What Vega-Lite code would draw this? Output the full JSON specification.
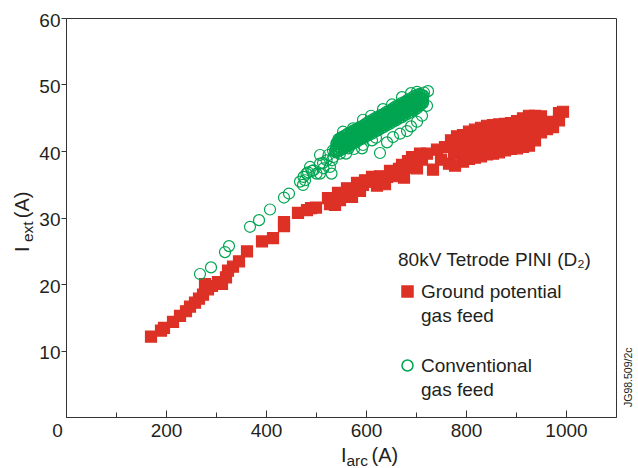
{
"$schema": "https://vega.github.io/schema/vega-lite/v6.json",
"width": 550, "height": 399,
"autosize": {"type": "none"},
"padding": {"left": 66, "top": 18, "right": 22, "bottom": 51},
"background": "white",
"config": {"font": "Liberation Sans", "view": {"stroke": "#333333", "strokeWidth": 1},
 "axis": {"domainColor": "#333333", "tickColor": "#333333", "labelColor": "#231f20", "labelFontSize": 19, "grid": false, "labelFont": "Liberation Sans"},
 "style": {"guide-label": {"lineHeight": 24}},
 "text": {"font": "Liberation Sans", "color": "#231f20"}},
"datasets": {
"pts": [
{"f":"G","a":170,"e":12.1},{"f":"G","a":190,"e":13.0},{"f":"G","a":196,"e":13.4},{"f":"G","a":214,"e":14.3},{"f":"G","a":228,"e":15.2},{"f":"G","a":240,"e":15.9},{"f":"G","a":248,"e":16.6},{"f":"G","a":258,"e":17.2},{"f":"G","a":266,"e":17.8},{"f":"G","a":274,"e":18.4},{"f":"G","a":278,"e":20.0},{"f":"G","a":284,"e":19.2},{"f":"G","a":292,"e":19.7},{"f":"G","a":304,"e":20.3},{"f":"G","a":312,"e":20.0},{"f":"G","a":320,"e":21.0},{"f":"G","a":324,"e":22.0},{"f":"G","a":334,"e":22.6},{"f":"G","a":346,"e":23.4},{"f":"G","a":362,"e":24.9},{"f":"G","a":392,"e":26.4},{"f":"G","a":414,"e":26.9},{"f":"G","a":436,"e":28.7},{"f":"G","a":436,"e":29.3},{"f":"G","a":464,"e":30.7},{"f":"G","a":482,"e":31.1},{"f":"G","a":490,"e":31.4},{"f":"G","a":500,"e":31.5},{"f":"G","a":524,"e":32.9},{"f":"G","a":532,"e":32.5},{"f":"G","a":538,"e":31.9},{"f":"G","a":544,"e":33.7},{"f":"G","a":552,"e":33.2},{"f":"G","a":562,"e":34.4},{"f":"G","a":572,"e":33.1},{"f":"G","a":578,"e":34.2},{"f":"G","a":582,"e":35.2},{"f":"G","a":594,"e":34.9},{"f":"G","a":604,"e":35.4},{"f":"G","a":612,"e":36.1},{"f":"G","a":622,"e":34.8},{"f":"G","a":632,"e":35.7},{"f":"G","a":642,"e":36.1},{"f":"G","a":652,"e":36.4},{"f":"G","a":658,"e":36.8},{"f":"G","a":666,"e":37.3},{"f":"G","a":672,"e":37.9},{"f":"G","a":676,"e":36.0},{"f":"G","a":684,"e":38.5},{"f":"G","a":692,"e":39.1},{"f":"G","a":702,"e":37.4},{"f":"G","a":712,"e":38.7},{"f":"G","a":722,"e":39.6},{"f":"G","a":734,"e":37.2},{"f":"G","a":742,"e":40.2},{"f":"G","a":750,"e":38.7},{"f":"G","a":758,"e":40.6},{"f":"G","a":766,"e":38.1},{"f":"G","a":776,"e":39.6},{"f":"G","a":778,"e":37.8},
{"f":"G","a":528,"e":32.0},{"f":"G","a":548,"e":32.6},{"f":"G","a":558,"e":33.6},{"f":"G","a":568,"e":34.0},{"f":"G","a":588,"e":34.0},{"f":"G","a":598,"e":35.6},{"f":"G","a":616,"e":35.4},{"f":"G","a":628,"e":36.2},{"f":"G","a":638,"e":35.0},{"f":"G","a":648,"e":37.0},{"f":"G","a":662,"e":36.2},{"f":"G","a":680,"e":37.5},{"f":"G","a":698,"e":38.6},{"f":"G","a":708,"e":39.6},
{"f":"G","a":770,"e":41.6},{"f":"G","a":782,"e":40.6},{"f":"G","a":782,"e":42.2},{"f":"G","a":794,"e":38.4},{"f":"G","a":794,"e":39.8},{"f":"G","a":794,"e":41.2},{"f":"G","a":794,"e":42.4},{"f":"G","a":806,"e":38.8},{"f":"G","a":806,"e":40.2},{"f":"G","a":806,"e":41.6},{"f":"G","a":806,"e":42.9},{"f":"G","a":818,"e":39.0},{"f":"G","a":818,"e":40.4},{"f":"G","a":818,"e":41.8},{"f":"G","a":818,"e":43.2},{"f":"G","a":830,"e":39.2},{"f":"G","a":830,"e":40.6},{"f":"G","a":830,"e":42.0},{"f":"G","a":830,"e":43.5},{"f":"G","a":842,"e":39.5},{"f":"G","a":842,"e":40.9},{"f":"G","a":842,"e":42.3},{"f":"G","a":842,"e":43.8},{"f":"G","a":854,"e":39.6},{"f":"G","a":854,"e":41.0},{"f":"G","a":854,"e":42.4},{"f":"G","a":854,"e":43.9},{"f":"G","a":866,"e":39.8},{"f":"G","a":866,"e":41.2},{"f":"G","a":866,"e":42.6},{"f":"G","a":866,"e":44.0},{"f":"G","a":878,"e":40.1},{"f":"G","a":878,"e":41.5},{"f":"G","a":878,"e":42.9},{"f":"G","a":878,"e":44.1},{"f":"G","a":890,"e":40.3},{"f":"G","a":890,"e":41.7},{"f":"G","a":890,"e":43.1},{"f":"G","a":890,"e":44.2},{"f":"G","a":902,"e":40.4},{"f":"G","a":902,"e":41.8},{"f":"G","a":902,"e":43.2},{"f":"G","a":902,"e":44.5},{"f":"G","a":914,"e":40.6},{"f":"G","a":914,"e":42.0},{"f":"G","a":914,"e":43.4},{"f":"G","a":914,"e":44.9},{"f":"G","a":926,"e":40.8},{"f":"G","a":926,"e":42.2},{"f":"G","a":926,"e":43.6},{"f":"G","a":926,"e":45.3},{"f":"G","a":938,"e":41.6},{"f":"G","a":938,"e":43.0},{"f":"G","a":938,"e":44.3},{"f":"G","a":938,"e":45.3},{"f":"G","a":950,"e":42.8},{"f":"G","a":950,"e":44.0},{"f":"G","a":950,"e":45.2},{"f":"G","a":962,"e":43.3},{"f":"G","a":962,"e":44.4},{"f":"G","a":974,"e":43.6},{"f":"G","a":974,"e":44.3},{"f":"G","a":986,"e":44.6},{"f":"G","a":986,"e":45.7},{"f":"G","a":994,"e":45.9},
{"f":"C","a":268,"e":21.5},{"f":"C","a":290,"e":22.5},{"f":"C","a":318,"e":24.8},{"f":"C","a":326,"e":25.7},{"f":"C","a":368,"e":28.6},{"f":"C","a":386,"e":29.6},{"f":"C","a":408,"e":31.2},{"f":"C","a":436,"e":33.0},{"f":"C","a":446,"e":33.6},{"f":"C","a":474,"e":34.9},{"f":"C","a":478,"e":35.6},
{"f":"C","a":481,"e":36.6},{"f":"C","a":495,"e":37.1},{"f":"C","a":508,"e":38.1},{"f":"C","a":521,"e":38.6},{"f":"C","a":535,"e":39.1},{"f":"C","a":541,"e":39.9},{"f":"C","a":468,"e":35.4},{"f":"C","a":475,"e":36.1},{"f":"C","a":501,"e":36.6},{"f":"C","a":515,"e":37.4},{"f":"C","a":528,"e":37.6},{"f":"C","a":531,"e":36.6},{"f":"C","a":548,"e":39.6},{"f":"C","a":541,"e":41.2},{"f":"C","a":551,"e":41.9},{"f":"C","a":508,"e":36.6},{"f":"C","a":488,"e":37.6},{"f":"C","a":525,"e":39.4},{"f":"C","a":565,"e":40.4},{"f":"C","a":508,"e":39.4},{"f":"C","a":534,"e":40.1},{"f":"C","a":484,"e":36.8},{"f":"C","a":492,"e":37.0},{"f":"C","a":514,"e":38.2},{"f":"C","a":532,"e":38.6},{"f":"C","a":538,"e":40.1},{"f":"C","a":548,"e":41.2},
{"f":"C","a":554,"e":42.9},{"f":"C","a":574,"e":43.4},{"f":"C","a":594,"e":44.7},{"f":"C","a":610,"e":45.3},{"f":"C","a":634,"e":46.3},{"f":"C","a":652,"e":47.0},{"f":"C","a":672,"e":48.1},{"f":"C","a":690,"e":48.7},{"f":"C","a":702,"e":48.9},{"f":"C","a":724,"e":49.0},{"f":"C","a":716,"e":48.8},
{"f":"C","a":592,"e":40.4},{"f":"C","a":594,"e":40.9},{"f":"C","a":612,"e":41.6},{"f":"C","a":628,"e":39.7},{"f":"C","a":642,"e":41.3},{"f":"C","a":654,"e":42.1},{"f":"C","a":668,"e":42.6},{"f":"C","a":682,"e":43.0},{"f":"C","a":690,"e":43.7},{"f":"C","a":702,"e":44.4},{"f":"C","a":712,"e":45.3},{"f":"C","a":722,"e":46.8},{"f":"C","a":560,"e":39.6},{"f":"C","a":576,"e":40.3},{"f":"C","a":620,"e":42.0},
{"f":"C","a":540,"e":39.8},{"f":"C","a":540,"e":40.4},{"f":"C","a":541,"e":41.0},
{"f":"C","a":546,"e":40.0},{"f":"C","a":546,"e":40.6},{"f":"C","a":547,"e":41.2},{"f":"C","a":546,"e":41.7},
{"f":"C","a":552,"e":40.2},{"f":"C","a":553,"e":40.8},{"f":"C","a":552,"e":41.4},{"f":"C","a":551,"e":42.0},
{"f":"C","a":558,"e":40.5},{"f":"C","a":558,"e":41.1},{"f":"C","a":559,"e":41.7},{"f":"C","a":558,"e":42.3},
{"f":"C","a":564,"e":40.7},{"f":"C","a":565,"e":41.3},{"f":"C","a":564,"e":41.9},{"f":"C","a":563,"e":42.5},
{"f":"C","a":570,"e":40.9},{"f":"C","a":570,"e":41.5},{"f":"C","a":571,"e":42.1},{"f":"C","a":570,"e":42.7},
{"f":"C","a":576,"e":41.2},{"f":"C","a":577,"e":41.8},{"f":"C","a":576,"e":42.4},{"f":"C","a":575,"e":43.0},
{"f":"C","a":582,"e":41.4},{"f":"C","a":582,"e":42.0},{"f":"C","a":583,"e":42.6},{"f":"C","a":582,"e":43.2},
{"f":"C","a":588,"e":41.7},{"f":"C","a":589,"e":42.3},{"f":"C","a":588,"e":42.9},{"f":"C","a":587,"e":43.5},
{"f":"C","a":594,"e":41.9},{"f":"C","a":594,"e":42.5},{"f":"C","a":595,"e":43.1},{"f":"C","a":594,"e":43.7},
{"f":"C","a":600,"e":42.2},{"f":"C","a":601,"e":42.8},{"f":"C","a":600,"e":43.4},{"f":"C","a":599,"e":44.0},
{"f":"C","a":606,"e":42.4},{"f":"C","a":606,"e":43.0},{"f":"C","a":607,"e":43.6},{"f":"C","a":606,"e":44.2},
{"f":"C","a":612,"e":42.6},{"f":"C","a":613,"e":43.2},{"f":"C","a":612,"e":43.8},{"f":"C","a":611,"e":44.4},
{"f":"C","a":618,"e":42.9},{"f":"C","a":618,"e":43.5},{"f":"C","a":619,"e":44.1},{"f":"C","a":618,"e":44.7},
{"f":"C","a":624,"e":43.1},{"f":"C","a":625,"e":43.7},{"f":"C","a":624,"e":44.3},{"f":"C","a":623,"e":44.9},
{"f":"C","a":630,"e":43.4},{"f":"C","a":630,"e":44.0},{"f":"C","a":631,"e":44.6},{"f":"C","a":630,"e":45.2},
{"f":"C","a":636,"e":43.6},{"f":"C","a":637,"e":44.2},{"f":"C","a":636,"e":44.8},{"f":"C","a":635,"e":45.4},
{"f":"C","a":642,"e":43.9},{"f":"C","a":642,"e":44.5},{"f":"C","a":643,"e":45.1},{"f":"C","a":642,"e":45.7},
{"f":"C","a":648,"e":44.1},{"f":"C","a":649,"e":44.7},{"f":"C","a":648,"e":45.3},{"f":"C","a":647,"e":45.9},
{"f":"C","a":654,"e":44.4},{"f":"C","a":654,"e":45.0},{"f":"C","a":655,"e":45.6},{"f":"C","a":654,"e":46.2},
{"f":"C","a":660,"e":44.6},{"f":"C","a":661,"e":45.2},{"f":"C","a":660,"e":45.8},{"f":"C","a":659,"e":46.4},
{"f":"C","a":666,"e":44.9},{"f":"C","a":666,"e":45.5},{"f":"C","a":667,"e":46.1},{"f":"C","a":666,"e":46.7},
{"f":"C","a":672,"e":45.1},{"f":"C","a":673,"e":45.7},{"f":"C","a":672,"e":46.3},{"f":"C","a":671,"e":46.9},
{"f":"C","a":678,"e":45.4},{"f":"C","a":678,"e":46.0},{"f":"C","a":679,"e":46.6},{"f":"C","a":678,"e":47.2},
{"f":"C","a":684,"e":45.6},{"f":"C","a":685,"e":46.2},{"f":"C","a":684,"e":46.8},{"f":"C","a":683,"e":47.4},
{"f":"C","a":690,"e":45.9},{"f":"C","a":690,"e":46.5},{"f":"C","a":691,"e":47.1},{"f":"C","a":690,"e":47.7},
{"f":"C","a":696,"e":46.1},{"f":"C","a":697,"e":46.7},{"f":"C","a":696,"e":47.3},{"f":"C","a":695,"e":47.9},
{"f":"C","a":702,"e":46.4},{"f":"C","a":702,"e":47.0},{"f":"C","a":703,"e":47.6},{"f":"C","a":702,"e":48.2},
{"f":"C","a":708,"e":46.8},{"f":"C","a":709,"e":47.4},{"f":"C","a":708,"e":48.0},{"f":"C","a":707,"e":48.5},
{"f":"C","a":714,"e":47.2},{"f":"C","a":714,"e":47.8},{"f":"C","a":715,"e":48.3},
{"f":"C","a":543,"e":40.1},{"f":"C","a":543,"e":40.7},{"f":"C","a":543,"e":41.3},
{"f":"C","a":549,"e":40.4},{"f":"C","a":549,"e":41.0},{"f":"C","a":549,"e":41.6},
{"f":"C","a":555,"e":40.7},{"f":"C","a":555,"e":41.3},{"f":"C","a":555,"e":41.9},
{"f":"C","a":561,"e":40.9},{"f":"C","a":561,"e":41.5},{"f":"C","a":561,"e":42.1},
{"f":"C","a":567,"e":41.1},{"f":"C","a":567,"e":41.7},{"f":"C","a":567,"e":42.3},
{"f":"C","a":573,"e":41.4},{"f":"C","a":573,"e":42.0},{"f":"C","a":573,"e":42.6},
{"f":"C","a":579,"e":41.6},{"f":"C","a":579,"e":42.2},{"f":"C","a":579,"e":42.8},
{"f":"C","a":585,"e":41.9},{"f":"C","a":585,"e":42.5},{"f":"C","a":585,"e":43.1},
{"f":"C","a":591,"e":42.1},{"f":"C","a":591,"e":42.7},{"f":"C","a":591,"e":43.3},
{"f":"C","a":597,"e":42.4},{"f":"C","a":597,"e":43.0},{"f":"C","a":597,"e":43.6},
{"f":"C","a":603,"e":42.6},{"f":"C","a":603,"e":43.2},{"f":"C","a":603,"e":43.8},
{"f":"C","a":609,"e":42.8},{"f":"C","a":609,"e":43.4},{"f":"C","a":609,"e":44.0},
{"f":"C","a":615,"e":43.1},{"f":"C","a":615,"e":43.7},{"f":"C","a":615,"e":44.3},
{"f":"C","a":621,"e":43.3},{"f":"C","a":621,"e":43.9},{"f":"C","a":621,"e":44.5},
{"f":"C","a":627,"e":43.6},{"f":"C","a":627,"e":44.2},{"f":"C","a":627,"e":44.8},
{"f":"C","a":633,"e":43.8},{"f":"C","a":633,"e":44.4},{"f":"C","a":633,"e":45.0},
{"f":"C","a":639,"e":44.1},{"f":"C","a":639,"e":44.7},{"f":"C","a":639,"e":45.3},
{"f":"C","a":645,"e":44.3},{"f":"C","a":645,"e":44.9},{"f":"C","a":645,"e":45.5},
{"f":"C","a":651,"e":44.6},{"f":"C","a":651,"e":45.2},{"f":"C","a":651,"e":45.8},
{"f":"C","a":657,"e":44.8},{"f":"C","a":657,"e":45.4},{"f":"C","a":657,"e":46.0},
{"f":"C","a":663,"e":45.1},{"f":"C","a":663,"e":45.7},{"f":"C","a":663,"e":46.3},
{"f":"C","a":669,"e":45.3},{"f":"C","a":669,"e":45.9},{"f":"C","a":669,"e":46.5},
{"f":"C","a":675,"e":45.6},{"f":"C","a":675,"e":46.2},{"f":"C","a":675,"e":46.8},
{"f":"C","a":681,"e":45.8},{"f":"C","a":681,"e":46.4},{"f":"C","a":681,"e":47.0},
{"f":"C","a":687,"e":46.1},{"f":"C","a":687,"e":46.7},{"f":"C","a":687,"e":47.3},
{"f":"C","a":693,"e":46.3},{"f":"C","a":693,"e":46.9},{"f":"C","a":693,"e":47.5},
{"f":"C","a":699,"e":46.6},{"f":"C","a":699,"e":47.2},{"f":"C","a":699,"e":47.8},
{"f":"C","a":705,"e":46.9},{"f":"C","a":705,"e":47.5},{"f":"C","a":705,"e":48.1},
{"f":"C","a":711,"e":47.2},{"f":"C","a":711,"e":47.8},{"f":"C","a":711,"e":48.4},
{"f":"C","a":545,"e":40.05},{"f":"C","a":545,"e":40.65},{"f":"C","a":545,"e":41.25},{"f":"C","a":545,"e":41.8},
{"f":"C","a":551,"e":40.35},{"f":"C","a":551,"e":40.95},{"f":"C","a":551,"e":41.55},{"f":"C","a":551,"e":42.1},
{"f":"C","a":557,"e":40.55},{"f":"C","a":557,"e":41.15},{"f":"C","a":557,"e":41.75},{"f":"C","a":557,"e":42.3},
{"f":"C","a":563,"e":40.85},{"f":"C","a":563,"e":41.45},{"f":"C","a":563,"e":42.05},{"f":"C","a":563,"e":42.6},
{"f":"C","a":569,"e":41.05},{"f":"C","a":569,"e":41.65},{"f":"C","a":569,"e":42.25},{"f":"C","a":569,"e":42.8},
{"f":"C","a":575,"e":41.35},{"f":"C","a":575,"e":41.95},{"f":"C","a":575,"e":42.55},{"f":"C","a":575,"e":43.1},
{"f":"C","a":581,"e":41.55},{"f":"C","a":581,"e":42.15},{"f":"C","a":581,"e":42.75},{"f":"C","a":581,"e":43.3},
{"f":"C","a":587,"e":41.85},{"f":"C","a":587,"e":42.45},{"f":"C","a":587,"e":43.05},{"f":"C","a":587,"e":43.6},
{"f":"C","a":593,"e":42.05},{"f":"C","a":593,"e":42.65},{"f":"C","a":593,"e":43.25},{"f":"C","a":593,"e":43.8},
{"f":"C","a":599,"e":42.35},{"f":"C","a":599,"e":42.95},{"f":"C","a":599,"e":43.55},{"f":"C","a":599,"e":44.1},
{"f":"C","a":605,"e":42.65},{"f":"C","a":605,"e":43.25},{"f":"C","a":605,"e":43.85},{"f":"C","a":605,"e":44.4},
{"f":"C","a":611,"e":42.85},{"f":"C","a":611,"e":43.45},{"f":"C","a":611,"e":44.05},{"f":"C","a":611,"e":44.6},
{"f":"C","a":617,"e":43.15},{"f":"C","a":617,"e":43.75},{"f":"C","a":617,"e":44.35},{"f":"C","a":617,"e":44.9},
{"f":"C","a":623,"e":43.35},{"f":"C","a":623,"e":43.95},{"f":"C","a":623,"e":44.55},{"f":"C","a":623,"e":45.1},
{"f":"C","a":629,"e":43.65},{"f":"C","a":629,"e":44.25},{"f":"C","a":629,"e":44.85},{"f":"C","a":629,"e":45.4},
{"f":"C","a":635,"e":43.85},{"f":"C","a":635,"e":44.45},{"f":"C","a":635,"e":45.05},{"f":"C","a":635,"e":45.6},
{"f":"C","a":641,"e":44.15},{"f":"C","a":641,"e":44.75},{"f":"C","a":641,"e":45.35},{"f":"C","a":641,"e":45.9},
{"f":"C","a":647,"e":44.35},{"f":"C","a":647,"e":44.95},{"f":"C","a":647,"e":45.55},{"f":"C","a":647,"e":46.1},
{"f":"C","a":653,"e":44.65},{"f":"C","a":653,"e":45.25},{"f":"C","a":653,"e":45.85},{"f":"C","a":653,"e":46.4},
{"f":"C","a":659,"e":44.95},{"f":"C","a":659,"e":45.55},{"f":"C","a":659,"e":46.15},{"f":"C","a":659,"e":46.7},
{"f":"C","a":665,"e":45.15},{"f":"C","a":665,"e":45.75},{"f":"C","a":665,"e":46.35},{"f":"C","a":665,"e":46.9},
{"f":"C","a":671,"e":45.45},{"f":"C","a":671,"e":46.05},{"f":"C","a":671,"e":46.65},{"f":"C","a":671,"e":47.2},
{"f":"C","a":677,"e":45.65},{"f":"C","a":677,"e":46.25},{"f":"C","a":677,"e":46.85},{"f":"C","a":677,"e":47.4},
{"f":"C","a":683,"e":45.95},{"f":"C","a":683,"e":46.55},{"f":"C","a":683,"e":47.15},{"f":"C","a":683,"e":47.7},
{"f":"C","a":689,"e":46.15},{"f":"C","a":689,"e":46.75},{"f":"C","a":689,"e":47.35},{"f":"C","a":689,"e":47.9},
{"f":"C","a":695,"e":46.45},{"f":"C","a":695,"e":47.05},{"f":"C","a":695,"e":47.65},{"f":"C","a":695,"e":48.2},
{"f":"C","a":701,"e":46.65},{"f":"C","a":701,"e":47.25},{"f":"C","a":701,"e":47.85},{"f":"C","a":701,"e":48.4},
{"f":"C","a":707,"e":46.95},{"f":"C","a":707,"e":47.55},{"f":"C","a":707,"e":48.15},{"f":"C","a":707,"e":48.6},
{"f":"C","a":713,"e":47.3},{"f":"C","a":713,"e":47.9},{"f":"C","a":713,"e":48.4}
]},
"layer": [
{"data": {"name": "pts"},
 "mark": {"type": "point", "opacity": 1, "strokeWidth": 1.2},
 "encoding": {
  "x": {"field": "a", "type": "quantitative", "scale": {"domain": [0, 1100], "nice": false, "zero": false},
   "axis": {"title": null, "values": [0,100,200,300,400,500,600,700,800,900,1000], "format": "d", "labelExpr": "datum.value % 200 == 0 ? datum.label : ''",
    "tickSize": {"condition": {"test": "datum.value % 200 == 0", "value": -7}, "value": -5},
    "labelPadding": 11, "labelFlush": false, "labelBaseline": "top",
    "labelOffset": {"condition": {"test": "datum.value == 0", "value": -9}, "value": 0}}},
  "y": {"field": "e", "type": "quantitative", "scale": {"domain": [0, 60], "nice": false},
   "axis": {"title": null, "values": [10,20,30,40,50,60], "tickSize": 5, "labelPadding": 1, "labelOffset": 2}},
  "size": {"field": "f", "type": "nominal", "scale": {"domain": ["G","C"], "range": [121, 121]},
   "legend": {"title": "80kV Tetrode PINI (D₂)", "orient": "none", "legendX": 332, "legendY": 233, "padding": 0,
    "titleFontSize": 19, "titleFontWeight": "normal", "titleColor": "#231f20", "titleFont": "Liberation Sans", "titlePadding": 12, "titleLimit": 400,
    "labelFontSize": 19, "labelColor": "#231f20", "labelFont": "Liberation Sans", "labelLimit": 300, "labelOffset": 4,
    "rowPadding": 30,
    "labelExpr": "datum.value == 'G' ? ['Ground potential', 'gas feed'] : ['Conventional', 'gas feed']"}},
  "shape": {"field": "f", "type": "nominal", "scale": {"domain": ["G","C"], "range": ["square","circle"]},
   "legend": {"title": "80kV Tetrode PINI (D₂)", "orient": "none", "legendX": 332, "legendY": 233, "padding": 0,
    "titleFontSize": 19, "titleFontWeight": "normal", "titleColor": "#231f20", "titleFont": "Liberation Sans", "titlePadding": 12, "titleLimit": 400,
    "labelFontSize": 19, "labelColor": "#231f20", "labelFont": "Liberation Sans", "labelLimit": 300, "labelOffset": 4,
    "rowPadding": 30,
    "labelExpr": "datum.value == 'G' ? ['Ground potential', 'gas feed'] : ['Conventional', 'gas feed']"}},
  "fill": {"field": "f", "type": "nominal", "scale": {"domain": ["G","C"], "range": ["#dd3126","transparent"]}},
  "stroke": {"field": "f", "type": "nominal", "scale": {"domain": ["G","C"], "range": ["#dd3126","#00a551"]}}
 }},
{"data": {"values": [{}]}, "mark": {"type": "text", "text": "I", "fontSize": 20, "align": "left", "baseline": "alphabetic"},
 "encoding": {"x": {"datum": 550}, "y": {"datum": -6.77}}},
{"data": {"values": [{}]}, "mark": {"type": "text", "text": "arc", "fontSize": 15.5, "align": "left", "baseline": "alphabetic"},
 "encoding": {"x": {"datum": 561}, "y": {"datum": -7.37}}},
{"data": {"values": [{}]}, "mark": {"type": "text", "text": "(A)", "fontSize": 20, "align": "left", "baseline": "alphabetic"},
 "encoding": {"x": {"datum": 611}, "y": {"datum": -6.77}}},
{"data": {"values": [{}]}, "mark": {"type": "text", "text": "I", "fontSize": 20, "align": "left", "baseline": "alphabetic", "angle": 270},
 "encoding": {"x": {"datum": -75}, "y": {"datum": 24.8}}},
{"data": {"values": [{}]}, "mark": {"type": "text", "text": "ext", "fontSize": 15.5, "align": "left", "baseline": "alphabetic", "angle": 270},
 "encoding": {"x": {"datum": -66}, "y": {"datum": 26.3}}},
{"data": {"values": [{}]}, "mark": {"type": "text", "text": "(A)", "fontSize": 20, "align": "left", "baseline": "alphabetic", "angle": 270},
 "encoding": {"x": {"datum": -75}, "y": {"datum": 29.9}}},
{"data": {"values": [{}]}, "mark": {"type": "text", "text": "JG98.509/2c", "fontSize": 10.5, "align": "left", "baseline": "alphabetic", "angle": 270},
 "encoding": {"x": {"datum": 1132}, "y": {"datum": 1.5}}}
]
}
